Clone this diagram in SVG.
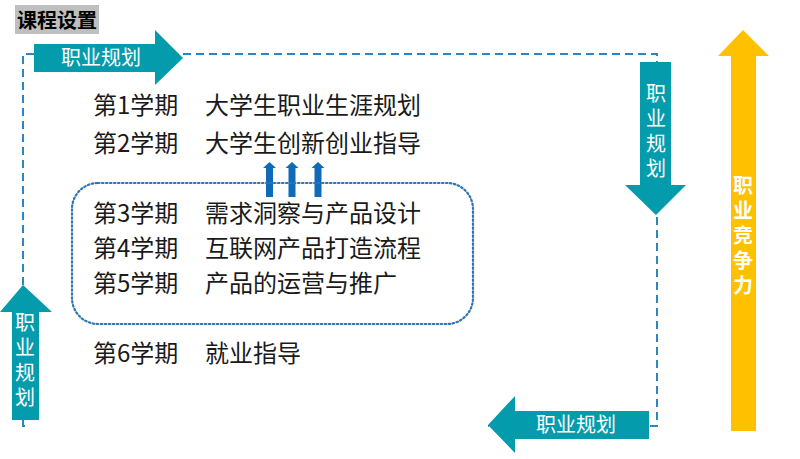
<svg xmlns="http://www.w3.org/2000/svg" width="800" height="459" viewBox="0 0 800 459">
<style>
.t{font-family:"Noto Sans CJK SC","Microsoft YaHei",sans-serif;font-size:24px;fill:#1a1a1a}
.w{font-family:"Noto Sans CJK SC",sans-serif;font-size:20px;fill:#ffffff;text-anchor:middle}
.v{font-family:"Noto Sans CJK SC",sans-serif;font-size:20px;fill:#ffffff;writing-mode:vertical-rl;letter-spacing:5px}
.vb{font-family:"Noto Sans CJK SC",sans-serif;font-size:20px;font-weight:bold;fill:#ffffff;writing-mode:vertical-rl;letter-spacing:5px}
.teal{fill:#049CAD}
.dash{fill:none;stroke:#2E86C1;stroke-width:2;stroke-dasharray:8 5}
.up{fill:#0E6BB8}
</style>
<rect width="800" height="459" fill="#ffffff"/>
<g id="title">
<rect x="15" y="5" width="84" height="29" fill="#BFBFBF"/>
<text x="17" y="28" style="font-family:'Noto Sans CJK SC',sans-serif;font-size:20px;font-weight:bold;fill:#000">课程设置</text>
</g>
<g id="connectors">
<path class="dash" d="M183 54 H657 V426 H488"/>
<path class="dash" d="M34 54 H23 V285"/>
<path class="dash" d="M23 420 V426 H30"/>
<path d="M269.5 162 L276 168 H273 V197 H266 V168 H263 Z" class="up"/>
<path d="M292 162 L298.5 168 H295.5 V197 H288.5 V168 H285.5 Z" class="up"/>
<path d="M318 162 L324.5 168 H321.5 V197 H314.5 V168 H311.5 Z" class="up"/>
</g>
<g id="arrow-top">
<path class="teal" d="M34 44 H155 V30 L183 58 L155 85 V72 H34 Z"/>
<text class="w" x="101" y="65">职业规划</text>
</g>
<g id="arrow-right">
<path class="teal" d="M640 62 H671 V185 H686 L656 215 L625 185 H640 Z"/>
<text class="v" x="656" y="83">职业规划</text>
</g>
<g id="arrow-bottom">
<path class="teal" d="M649 411 H515 V396 L488 425 L515 453 V439 H649 Z"/>
<text class="w" x="576" y="432">职业规划</text>
</g>
<g id="arrow-left">
<path class="teal" d="M12 420 V312 H0 L23 285 L52 312 H39 V420 Z"/>
<text class="v" x="25" y="312">职业规划</text>
</g>
<g id="arrow-yellow">
<path d="M731 431 V56 H718 L743 30 L769 56 H756 V431 Z" fill="#FFC000"/>
<text class="vb" x="743" y="175">职业竞争力</text>
</g>
<g id="sem1"><text class="t" x="93" y="114">第1学期</text><text class="t" x="205" y="114">大学生职业生涯规划</text></g>
<g id="sem2"><text class="t" x="93" y="152">第2学期</text><text class="t" x="205" y="152">大学生创新创业指导</text></g>
<g id="box">
<rect x="72" y="183" width="401" height="141" rx="26" fill="none" stroke="#2E75B6" stroke-width="2.2" stroke-dasharray="1.5 2.5" stroke-linecap="round"/>
<g id="sem3"><text class="t" x="93" y="222">第3学期</text><text class="t" x="205" y="222">需求洞察与产品设计</text></g>
<g id="sem4"><text class="t" x="93" y="257">第4学期</text><text class="t" x="205" y="257">互联网产品打造流程</text></g>
<g id="sem5"><text class="t" x="93" y="292">第5学期</text><text class="t" x="205" y="292">产品的运营与推广</text></g>
</g>
<g id="sem6"><text class="t" x="93" y="362">第6学期</text><text class="t" x="205" y="362">就业指导</text></g>
</svg>
